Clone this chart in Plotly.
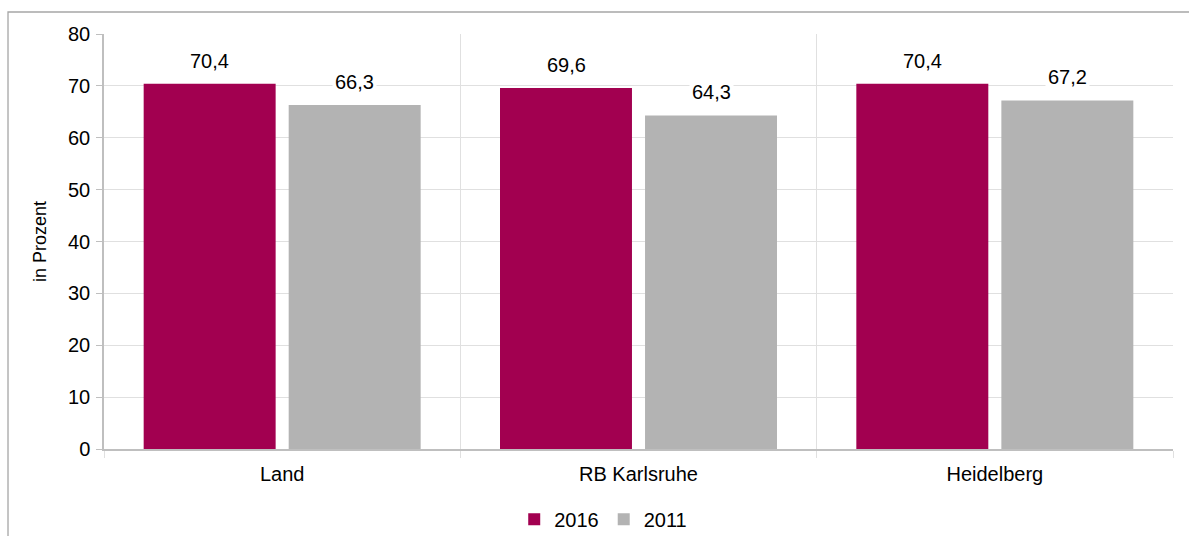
import plotly.graph_objects as go

categories = ["Land", "RB Karlsruhe", "Heidelberg"]
values_2016 = [70.4, 69.6, 70.4]
values_2011 = [66.3, 64.3, 67.2]
series_names = ["2016", "2011"]
y_ticks = [0, 10, 20, 30, 40, 50, 60, 70, 80]

C2016 = "#A20050"
C2011 = "#B3B3B3"
FONT = "Liberation Sans, Arial, sans-serif"
GRID = "#E0E0E0"
AXIS = "#BFBFBF"

fig = go.Figure()
fig.add_trace(go.Bar(name=series_names[0], x=categories, y=values_2016,
                     marker=dict(color=C2016, line=dict(width=0))))
fig.add_trace(go.Bar(name=series_names[1], x=categories, y=values_2011,
                     marker=dict(color=C2011, line=dict(width=0))))

annotations = []
for vals, shift in ((values_2016, -72.5), (values_2011, 72.5)):
    for c, v in zip(categories, vals):
        annotations.append(dict(
            x=c, y=v, xref="x", yref="y", text=f"{v:.1f}".replace(".", ","),
            showarrow=False, xshift=shift, yanchor="bottom", yshift=9,
            bgcolor="white", borderpad=2,
            font=dict(family=FONT, size=20, color="#000000")))

fig.update_layout(
    width=1189, height=536,
    margin=dict(l=104, r=16, t=34, b=87, autoexpand=False),
    paper_bgcolor="white", plot_bgcolor="white",
    barmode="group", bargap=0.186, bargroupgap=0.09,
    font=dict(family=FONT, size=20, color="#000000"),
    showlegend=True,
    legend=dict(orientation="h", x=0.467, xanchor="center", y=-0.169, yanchor="middle",
                font=dict(family=FONT, size=20), itemwidth=30, traceorder="normal",
                itemclick=False, tracegroupgap=0),
    annotations=annotations,
    shapes=[dict(type="rect", xref="paper", yref="paper",
                 x0=-0.0898, x1=1.03, y0=-0.25, y1=1.053,
                 line=dict(color="#A6A6A6", width=1.3), fillcolor="rgba(0,0,0,0)", layer="below")],
)
fig.update_xaxes(type="category", tickson="boundaries", showgrid=True, gridcolor=GRID,
                 showline=True, linecolor=AXIS, linewidth=1.5,
                 ticks="outside", ticklen=7, tickcolor=GRID, ticklabelstandoff=6,
                 tickfont=dict(family=FONT, size=20))
fig.update_yaxes(range=[0, 80], tickvals=y_ticks, showgrid=True, gridcolor=GRID,
                 showline=True, linecolor=AXIS, linewidth=1.5,
                 ticks="outside", ticklen=6, tickcolor=AXIS, ticklabelstandoff=2,
                 zeroline=False,
                 title=dict(text="in Prozent", font=dict(family=FONT, size=18), standoff=17),
                 tickfont=dict(family=FONT, size=20))

fig.write_html("out.html")
